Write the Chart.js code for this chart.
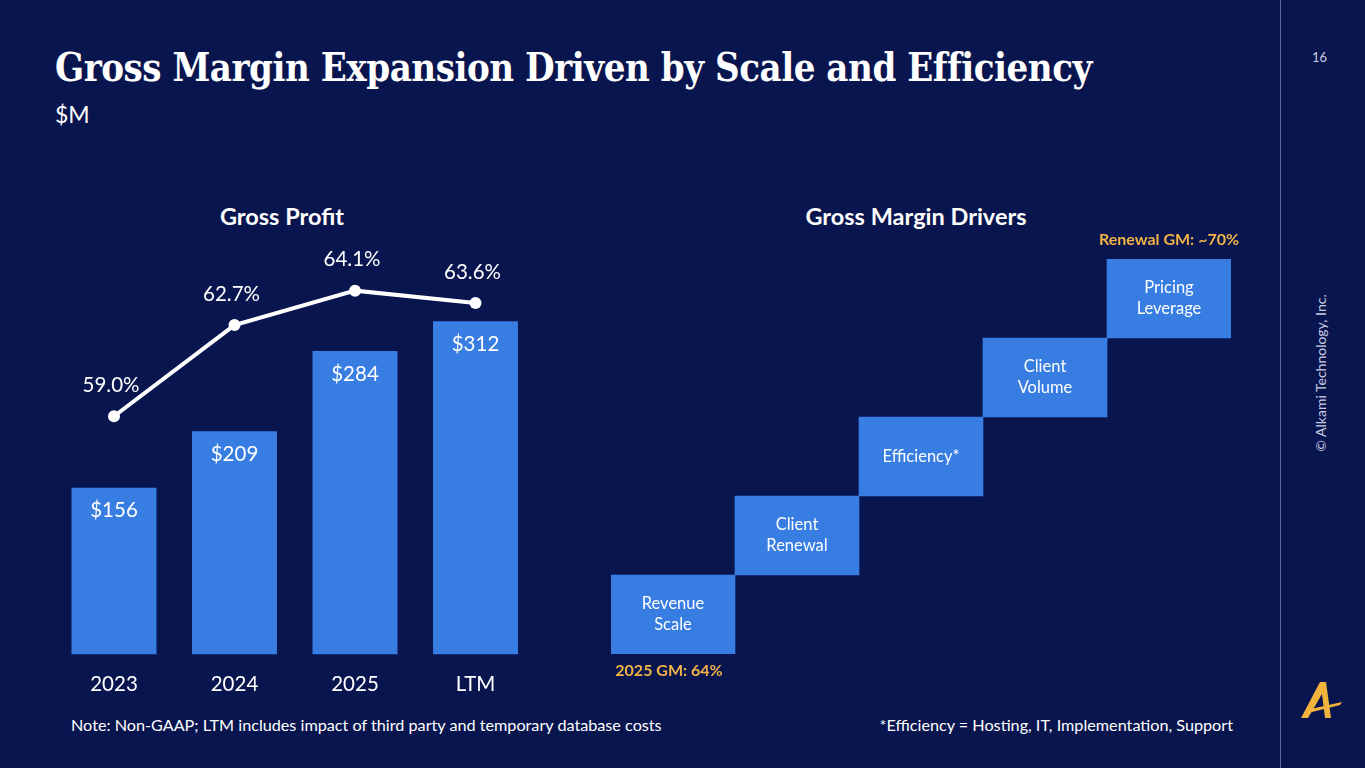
<!DOCTYPE html>
<html>
<head>
<meta charset="utf-8">
<script src="https://cdn.jsdelivr.net/npm/chart.js@4.4.1/dist/chart.umd.min.js"></script>
<style>
  html, body { margin: 0; padding: 0; }
  body {
    width: 1365px; height: 768px; overflow: hidden; position: relative;
    background: #09154f; font-family: Lato, "Open Sans", sans-serif; color: #fff;
  }
  .abs { position: absolute; white-space: nowrap; }
  #title {
    left: 55px; top: 43px; font-family: "DejaVu Serif Condensed", "DejaVu Serif", serif; font-weight: bold;
    font-stretch: condensed; font-size: 40px; transform-origin: 0 0; letter-spacing: -0.5px;
  }
  #unit { left: 55px; top: 100px; font-size: 23px; }
  .chart-title { top: 202px; font-size: 23.5px; font-weight: bold; transform: translateX(-50%); }
  .note { top: 715px; font-size: 16.2px; }
  #divider { left: 1280px; top: 0; width: 1px; height: 768px; background: #5a6796; }
  #page { left: 1312px; top: 49px; font-size: 13px; color: #c9cde0; }
  #copy {
    left: 1320px; top: 373px; font-size: 14px; color: #c9cde0;
    transform: translate(-50%, -50%) rotate(-90deg);
  }
  canvas { position: absolute; }
</style>
</head>
<body>
<div id="title" class="abs">Gross Margin Expansion Driven by Scale and Efficiency</div>
<div id="unit" class="abs">$M</div>
<div class="abs chart-title" style="left:282px">Gross Profit</div>
<div class="abs chart-title" style="left:916px">Gross Margin Drivers</div>
<div class="abs note" style="left:71px">Note: Non-GAAP; LTM includes impact of third party and temporary database costs</div>
<div class="abs note" style="right:132px">*Efficiency = Hosting, IT, Implementation, Support</div>
<div id="divider" class="abs"></div>
<div id="page" class="abs">16</div>
<div id="copy" class="abs">© Alkami Technology, Inc.</div>
<svg class="abs" style="left:1296px;top:676px" width="50" height="46" viewBox="0 0 50 46">
  <polygon points="5,42 24,6 30,6 35,42 29,42 26,18 12,42" fill="#f2b33d"/>
  <polygon points="10,34 46,26 44,29 12,37" fill="#f2b33d"/>
</svg>

<canvas id="gp" style="left:0px;top:230px" width="560" height="500"></canvas>
<canvas id="gm" style="left:580px;top:230px" width="680" height="500"></canvas>

<script>
// fit the title to the width it has on the slide
const titleEl = document.getElementById("title");
titleEl.style.transform = "scaleX(" + (1037 / titleEl.offsetWidth) + ")";

const years = ["2023", "2024", "2025", "LTM"];
const grossProfit = [156, 209, 284, 312]; // $M
const grossMargin = [59.0, 62.7, 64.1, 63.6]; // %

const drivers = [["Revenue", "Scale"], ["Client", "Renewal"], ["Efficiency*"], ["Client", "Volume"], ["Pricing", "Leverage"]];
const driverSteps = [[64, 65.2], [65.2, 66.4], [66.4, 67.6], [67.6, 68.8], [68.8, 70]]; // GM %, illustrative steps
const startLabel = "2025 GM: 64%";
const endLabel = "Renewal GM: ~70%";

const barBlue = "#377de2";
const gold = "#f2b347";
const font = "Lato, 'Open Sans', sans-serif";

Chart.defaults.font.family = font;
Chart.defaults.animation = false;

// value labels for the gross profit chart
const gpLabels = {
  id: "gpLabels",
  afterDatasetsDraw(chart) {
    const ctx = chart.ctx;
    ctx.save();
    ctx.fillStyle = "#ffffff";
    ctx.textAlign = "center";
    ctx.textBaseline = "middle";
    ctx.font = "20.5px " + font;
    chart.getDatasetMeta(1).data.forEach((bar, i) => {
      ctx.fillText("$" + grossProfit[i], bar.x, bar.y + 23);
    });
    chart.getDatasetMeta(0).data.forEach((pt, i) => {
      ctx.fillText(grossMargin[i].toFixed(1) + "%", pt.x - 3, pt.y - 31);
    });
    ctx.restore();
  },
};

new Chart(document.getElementById("gp"), {
  type: "bar",
  data: {
    labels: years,
    datasets: [
      {
        type: "line",
        data: grossMargin,
        yAxisID: "y1",
        borderColor: "#ffffff",
        borderWidth: 4,
        pointRadius: 6,
        pointBackgroundColor: "#ffffff",
        pointBorderWidth: 0,
        order: 0,
      },
      {
        data: grossProfit,
        yAxisID: "y",
        backgroundColor: barBlue,
        categoryPercentage: 1,
        barPercentage: 0.705,
        order: 1,
      },
    ],
  },
  options: {
    responsive: false,
    layout: { padding: { top: 20, bottom: 15, left: 53.75, right: 24.25 } },
    plugins: { legend: { display: false }, tooltip: { enabled: false } },
    scales: {
      x: {
        grid: { display: false, drawTicks: false },
        border: { display: false },
        ticks: { color: "#ffffff", font: { size: 20.5 }, padding: 18 },
      },
      y: { display: false, min: 0, max: 378.6 },
      y1: { display: false, min: 49.33, max: 65.75 },
    },
  },
  plugins: [gpLabels],
});

// box text and start / end notes for the drivers chart
const gmLabels = {
  id: "gmLabels",
  afterDatasetsDraw(chart) {
    const ctx = chart.ctx;
    const bars = chart.getDatasetMeta(0).data;
    ctx.save();
    ctx.textAlign = "center";
    ctx.textBaseline = "middle";
    ctx.fillStyle = "#ffffff";
    ctx.font = "16.5px " + font;
    bars.forEach((bar, i) => {
      const mid = (bar.y + bar.base) / 2;
      const lines = drivers[i];
      lines.forEach((line, j) => {
        ctx.fillText(line, bar.x, mid + (j - (lines.length - 1) / 2) * 21);
      });
    });
    ctx.fillStyle = gold;
    ctx.font = "bold 16px " + font;
    const first = bars[0];
    ctx.fillText(startLabel, first.x - 4, first.base + 17);
    const last = bars[bars.length - 1];
    ctx.fillText(endLabel, last.x, last.y - 19);
    ctx.restore();
  },
};

new Chart(document.getElementById("gm"), {
  type: "bar",
  data: {
    labels: drivers.map((d) => d.join(" ")),
    datasets: [
      {
        data: driverSteps,
        backgroundColor: barBlue,
        categoryPercentage: 1,
        barPercentage: 1,
      },
    ],
  },
  options: {
    responsive: false,
    layout: { padding: { top: 29, bottom: 76, left: 31, right: 29 } },
    plugins: { legend: { display: false }, tooltip: { enabled: false } },
    scales: {
      x: { display: false },
      y: { display: false, min: 64, max: 70 },
    },
  },
  plugins: [gmLabels],
});
</script>
</body>
</html>
